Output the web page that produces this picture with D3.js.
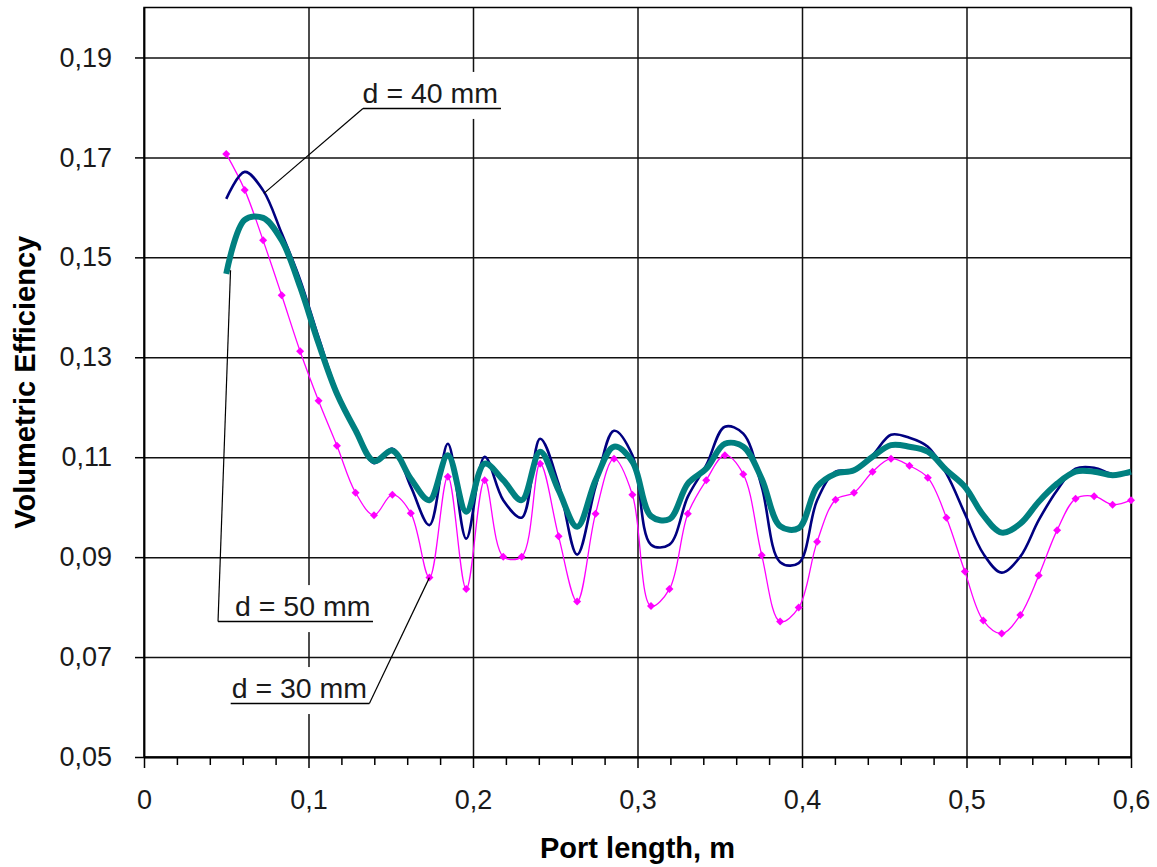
<!DOCTYPE html>
<html>
<head>
<meta charset="utf-8">
<script src="https://cdn.jsdelivr.net/npm/d3@7"></script>
<style>
    body { margin: 0; background: #fff; }
    svg { display: block; font-family: "Liberation Sans", Arial, sans-serif; }
    .axis text { font-size: 27px; fill: #1a1a1a; }
    .axis path, .axis line { stroke: #000; stroke-width: 1.5px; }
    .grid line { stroke: #111; stroke-width: 1.5px; }
    .grid path { display: none; }
    .note { font-size: 28.5px; fill: #1a1a1a; }
    .title { font-size: 29px; font-weight: bold; fill: #000; }
</style>
</head>
<body>
<script>
// port length, m (same sampling for all three series)
const portLength = [
    0.0500, 0.0612, 0.0724, 0.0837, 0.0949, 0.1061, 0.1173, 0.1286, 0.1398, 0.1510,
    0.1622, 0.1735, 0.1847, 0.1959, 0.2071, 0.2184, 0.2296, 0.2408, 0.2520, 0.2633,
    0.2745, 0.2857, 0.2969, 0.3082, 0.3194, 0.3306, 0.3418, 0.3531, 0.3643, 0.3755,
    0.3867, 0.3980, 0.4092, 0.4204, 0.4316, 0.4429, 0.4541, 0.4653, 0.4765, 0.4878,
    0.4990, 0.5102, 0.5214, 0.5327, 0.5439, 0.5551, 0.5663, 0.5776, 0.5888, 0.6000
];

// volumetric efficiency, d = 30 mm
const eff30 = [
    0.1707, 0.1635, 0.1534, 0.1424, 0.1312, 0.1213, 0.1123, 0.1029, 0.0984, 0.1025,
    0.0988, 0.0859, 0.1061, 0.0836, 0.1054, 0.0901, 0.0901, 0.1087, 0.0942, 0.0811,
    0.0987, 0.1097, 0.1025, 0.0802, 0.0836, 0.0987, 0.1054, 0.1104, 0.1066, 0.0904,
    0.0771, 0.0799, 0.0931, 0.1015, 0.1029, 0.1071, 0.1097, 0.1083, 0.1059, 0.0979,
    0.0871, 0.0773, 0.0747, 0.0784, 0.0863, 0.0954, 0.1017, 0.1022, 0.1005, 0.1014
];

// d = 40 mm
const eff40 = [
    0.1617, 0.1671, 0.1634, 0.1548, 0.1455, 0.1340, 0.1232, 0.1157, 0.1088, 0.1117,
    0.1041, 0.0964, 0.1127, 0.0937, 0.1101, 0.1014, 0.0979, 0.1137, 0.1047, 0.0905,
    0.1041, 0.1153, 0.1104, 0.0925, 0.0925, 0.1021, 0.1084, 0.1161, 0.1147, 0.1041,
    0.0890, 0.0888, 0.1014, 0.1071, 0.1074, 0.1104, 0.1145, 0.1139, 0.1121, 0.1067,
    0.0987, 0.0907, 0.0869, 0.0901, 0.0974, 0.1034, 0.1077, 0.1079, 0.1066, 0.1067
];

// d = 50 mm
const eff50 = [
    0.1467, 0.1575, 0.1579, 0.1534, 0.1441, 0.1328, 0.1227, 0.1154, 0.1092, 0.1113,
    0.1057, 0.1014, 0.1104, 0.0991, 0.1087, 0.1054, 0.1014, 0.1111, 0.1034, 0.0961,
    0.1054, 0.1121, 0.1091, 0.0982, 0.0976, 0.1047, 0.1077, 0.1127, 0.1121, 0.1057,
    0.0962, 0.0958, 0.1041, 0.1067, 0.1074, 0.1101, 0.1124, 0.1121, 0.1111, 0.1074,
    0.1041, 0.0984, 0.0949, 0.0967, 0.1011, 0.1047, 0.1071, 0.1071, 0.1064, 0.1071
];

const xTickValues = [0, 0.1, 0.2, 0.3, 0.4, 0.5, 0.6];
const xMinorValues = [0.02, 0.04, 0.06, 0.08, 0.12, 0.14, 0.16, 0.18, 0.22, 0.24, 0.26, 0.28,
    0.32, 0.34, 0.36, 0.38, 0.42, 0.44, 0.46, 0.48, 0.52, 0.54, 0.56, 0.58];
const yTickValues = [0.05, 0.07, 0.09, 0.11, 0.13, 0.15, 0.17, 0.19];

// callout labels, in data units: text start, underline ends, leader tip
const notes = [
    { text: "d = 40 mm", tx: 0.1329, ux0: 0.1331, ux1: 0.2170, uy: 0.1798, px: 0.0729, py: 0.1628 },
    { text: "d = 50 mm", tx: 0.0553, ux0: 0.0450, ux1: 0.1392, uy: 0.0771, px: 0.0526, py: 0.1474 },
    { text: "d = 30 mm", tx: 0.0533, ux0: 0.0527, ux1: 0.1370, uy: 0.0607, px: 0.1735, py: 0.0859, fromRight: true }
];

const width = 1157;
const height = 867;
const margin = { top: 7.5, right: 26, bottom: 110, left: 144 };
const innerW = width - margin.left - margin.right;
const innerH = height - margin.top - margin.bottom;

const locale = d3.formatLocale({ decimal: ",", thousands: ".", grouping: [3], currency: ["", ""] });
const fmtY = locale.format(".2f");
const fmtX = function (d) { return d === 0 ? "0" : locale.format(".1f")(d); };

const svg = d3.select("body")
    .append("svg")
    .attr("width", width)
    .attr("height", height);

const g = svg.append("g")
    .attr("transform", "translate(" + margin.left + "," + margin.top + ")");

const x = d3.scaleLinear().domain([0, 0.6]).range([0, innerW]);
const y = d3.scaleLinear().domain([0.05, 0.2]).range([innerH, 0]);

// gridlines
g.append("g")
    .attr("class", "grid")
    .call(d3.axisLeft(y).tickValues(yTickValues).tickSize(-innerW).tickFormat(""));

g.append("g")
    .attr("class", "grid")
    .attr("transform", "translate(0," + innerH + ")")
    .call(d3.axisBottom(x).tickValues(xTickValues).tickSize(-innerH).tickFormat(""));

// plot border
g.append("rect")
    .attr("width", innerW)
    .attr("height", innerH)
    .attr("fill", "none")
    .attr("stroke", "#000")
    .attr("stroke-width", 1.5);

// axes
g.append("g")
    .attr("class", "axis")
    .call(d3.axisLeft(y).tickValues(yTickValues).tickSize(9).tickSizeOuter(0).tickPadding(23).tickFormat(fmtY));

g.append("g")
    .attr("class", "axis")
    .attr("transform", "translate(0," + innerH + ")")
    .call(d3.axisBottom(x).tickValues(xTickValues).tickSize(11).tickSizeOuter(0).tickPadding(22).tickFormat(fmtX));

g.append("g")
    .attr("class", "axis")
    .attr("transform", "translate(0," + innerH + ")")
    .call(d3.axisBottom(x).tickValues(xMinorValues).tickSize(8).tickSizeOuter(0).tickFormat(""));

// series
const line = d3.line()
    .x(function (d) { return x(d[0]); })
    .y(function (d) { return y(d[1]); })
    .curve(d3.curveCatmullRom.alpha(0.5));

const pts30 = portLength.map(function (v, i) { return [v, eff30[i]]; });
const pts40 = portLength.map(function (v, i) { return [v, eff40[i]]; });
const pts50 = portLength.map(function (v, i) { return [v, eff50[i]]; });

g.append("path")
    .datum(pts30)
    .attr("d", line)
    .attr("fill", "none")
    .attr("stroke", "#ff00ff")
    .attr("stroke-width", 1.3);

g.selectAll(".mk")
    .data(pts30)
    .enter()
    .append("path")
    .attr("class", "mk")
    .attr("transform", function (d) { return "translate(" + x(d[0]) + "," + y(d[1]) + ")"; })
    .attr("d", "M0,-4L4,0L0,4L-4,0Z")
    .attr("fill", "#ff00ff");

g.append("path")
    .datum(pts40)
    .attr("d", line)
    .attr("fill", "none")
    .attr("stroke", "#000080")
    .attr("stroke-width", 2.6)
    .attr("stroke-linejoin", "round");

g.append("path")
    .datum(pts50)
    .attr("d", line)
    .attr("fill", "none")
    .attr("stroke", "#008080")
    .attr("stroke-width", 6)
    .attr("stroke-linejoin", "round");

// callouts
notes.forEach(function (n) {
    const uy = y(n.uy);
    const left = Math.min(x(n.ux0), x(n.tx));
    g.append("rect")
        .attr("x", left + 4)
        .attr("y", uy - 36.5)
        .attr("width", x(n.ux1) - left + 2)
        .attr("height", 47)
        .attr("fill", "#fff");

    g.append("text")
        .attr("class", "note")
        .attr("x", x(n.tx))
        .attr("y", uy - 5.5)
        .text(n.text);

    g.append("line")
        .attr("x1", x(n.ux0)).attr("x2", x(n.ux1))
        .attr("y1", uy).attr("y2", uy)
        .attr("stroke", "#000")
        .attr("stroke-width", 1.5);

    const sx = n.fromRight ? x(n.ux1) : x(n.ux0);
    g.append("line")
        .attr("x1", sx).attr("y1", uy)
        .attr("x2", x(n.px)).attr("y2", y(n.py))
        .attr("stroke", "#000")
        .attr("stroke-width", 1.2);
});

// axis titles
svg.append("text")
    .attr("class", "title")
    .attr("x", margin.left + innerW / 2)
    .attr("y", 858)
    .attr("text-anchor", "middle")
    .text("Port length, m");

svg.append("text")
    .attr("class", "title")
    .attr("transform", "translate(35," + (margin.top + innerH / 2) + ") rotate(-90)")
    .attr("text-anchor", "middle")
    .text("Volumetric Efficiency");
</script>
</body>
</html>
